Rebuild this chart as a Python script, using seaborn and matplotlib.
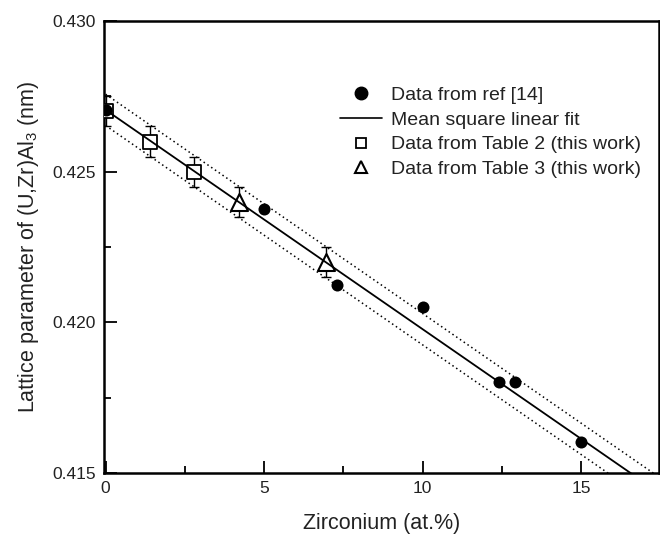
import numpy as np
import pandas as pd
import matplotlib
matplotlib.use("Agg")
import matplotlib.pyplot as plt
import seaborn as sns
from matplotlib.ticker import MultipleLocator, FormatStrFormatter
from matplotlib.lines import Line2D

# ---- data ----
ref_x = [0.0, 5.0, 7.3, 10.0, 12.4, 12.9, 15.0]
ref_y = [0.42705, 0.42376, 0.42123, 0.42052, 0.41801, 0.41801, 0.41602]

tab2_x = [0.0, 1.4, 2.8]
tab2_y = [0.4270, 0.4260, 0.4250]
tab2_err = [0.0005, 0.0005, 0.0005]

tab3_x = [4.2, 6.95]
tab3_y = [0.4240, 0.4220]
tab3_err = [0.0005, 0.0005]

fit_intercept = 0.42705
fit_slope = -0.000728
band_halfwidth = 0.00052

x_ticks = [0, 5, 10, 15]
y_ticks = [0.415, 0.420, 0.425, 0.430]

labels = ["Data from ref [14]", "Mean square linear fit",
          "Data from Table 2 (this work)", "Data from Table 3 (this work)"]

sns.set_theme(style="white")
plt.rcParams['font.family'] = ['Liberation Sans', 'DejaVu Sans']
plt.rcParams['mathtext.fontset'] = 'custom'
plt.rcParams['mathtext.rm'] = 'Liberation Sans'
plt.rcParams['mathtext.it'] = 'Liberation Sans'

fig = plt.figure(figsize=(6.6, 5.34), dpi=100)
ax = fig.add_axes([0.1576, 0.1142, 0.8409, 0.8465])

fit_x = np.array([0.0, 17.6])
fit_df = pd.DataFrame({"x": fit_x, "y": fit_intercept + fit_slope * fit_x})
up_df = pd.DataFrame({"x": fit_x, "y": fit_df["y"] + band_halfwidth})
lo_df = pd.DataFrame({"x": fit_x, "y": fit_df["y"] - band_halfwidth})

sns.lineplot(data=up_df, x="x", y="y", ax=ax, color="black", lw=1.1,
             linestyle=(0, (1, 2)), legend=False)
sns.lineplot(data=lo_df, x="x", y="y", ax=ax, color="black", lw=1.1,
             linestyle=(0, (1, 2)), legend=False)

ax.errorbar(tab2_x, tab2_y, yerr=tab2_err, fmt="none", ecolor="black",
            elinewidth=1.0, capsize=3.5, capthick=1.0, zorder=3)
ax.errorbar(tab3_x, tab3_y, yerr=tab3_err, fmt="none", ecolor="black",
            elinewidth=1.0, capsize=3.5, capthick=1.0, zorder=3)

sns.scatterplot(x=tab2_x, y=tab2_y, ax=ax, marker="s", s=110,
                facecolor="white", edgecolor="black", linewidth=1.3, zorder=4)
sns.scatterplot(x=tab3_x, y=tab3_y, ax=ax, marker="^", s=150,
                facecolor="white", edgecolor="black", linewidth=1.5, zorder=4)
sns.lineplot(data=fit_df, x="x", y="y", ax=ax, color="black", lw=1.3,
             legend=False, zorder=5)
sns.scatterplot(x=ref_x, y=ref_y, ax=ax, marker="o", s=75,
                color="black", edgecolor="black", linewidth=0, zorder=6)

ax.set_xlim(-0.05, 17.45)
ax.set_ylim(0.415, 0.430)
ax.set_xticks(x_ticks)
ax.set_yticks(y_ticks)
ax.xaxis.set_minor_locator(MultipleLocator(2.5))
ax.yaxis.set_minor_locator(MultipleLocator(0.0025))
ax.yaxis.set_major_formatter(FormatStrFormatter('%.3f'))
ax.tick_params(axis='both', which='major', direction='in', length=9, width=1.3,
               labelsize=12.5, color='black', labelcolor='#222222', pad=6)
ax.tick_params(axis='both', which='minor', direction='in', length=5, width=1.3,
               color='black')
ax.tick_params(bottom=True, left=True, top=False, right=False, which='both')
for s in ax.spines.values():
    s.set_color('black')
    s.set_linewidth(1.8)

ax.set_xlabel("Zirconium (at.%)", fontsize=15.5, color='#222222', labelpad=12)
ax.set_ylabel("Lattice parameter of (U,Zr)Al$_3$ (nm)", fontsize=15.5,
              color='#222222', labelpad=8)

handles = [
    Line2D([], [], marker='o', color='black', linestyle='none', markersize=9),
    Line2D([], [], color='black', lw=1.2),
    Line2D([], [], marker='s', color='black', markerfacecolor='white',
           linestyle='none', markersize=7.5, markeredgewidth=1.3),
    Line2D([], [], marker='^', color='black', markerfacecolor='white',
           linestyle='none', markersize=8.5, markeredgewidth=1.5),
]
leg = ax.legend(handles, labels, loc='upper left', bbox_to_anchor=(0.411, 0.872),
                frameon=False, fontsize=14, handlelength=2.16,
                handletextpad=0.46, labelspacing=0.36, borderaxespad=0)
for t in leg.get_texts():
    t.set_color('#222222')

fig.savefig("out.png", dpi=100)
